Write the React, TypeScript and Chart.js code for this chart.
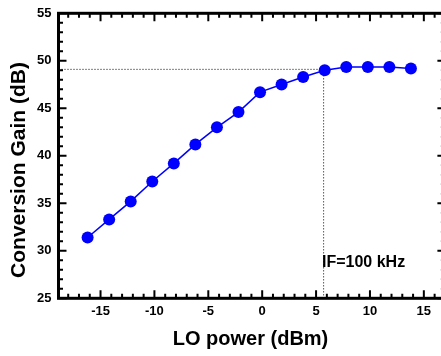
import React, { useEffect, useRef } from "react";
import { Chart, registerables } from "chart.js";

Chart.register(...registerables);

const loPower: number[] = [-16.2, -14.2, -12.2, -10.2, -8.2, -6.2, -4.2, -2.2, -0.2, 1.8, 3.8, 5.8, 7.8, 9.8, 11.8, 13.8];
const conversionGain: number[] = [31.4, 33.3, 35.2, 37.3, 39.2, 41.2, 43.0, 44.6, 46.7, 47.5, 48.3, 49.0, 49.35, 49.35, 49.35, 49.2];
const xTicks: number[] = [-15, -10, -5, 0, 5, 10, 15];
const yTicks: number[] = [25, 30, 35, 40, 45, 50, 55];
const markerX = 5.7;
const markerY = 49.1;
const annotationText = "IF=100 kHz";
const xTitle = "LO power (dBm)";
const yTitle = "Conversion Gain (dB)";

const FONT = "'Liberation Sans', Arial, sans-serif";

const framePlugin = {
  id: "framePlugin",
  beforeDatasetsDraw(chart: any) {
    const { ctx, scales } = chart;
    const xs = scales.x;
    const ys = scales.y;
    const px = xs.getPixelForValue(markerX);
    const py = ys.getPixelForValue(markerY);
    ctx.save();
    ctx.strokeStyle = "#000";
    ctx.lineWidth = 1;
    ctx.setLineDash([1, 2]);
    ctx.beginPath();
    ctx.moveTo(chart.chartArea.left, py);
    ctx.lineTo(px, py);
    ctx.moveTo(px, py);
    ctx.lineTo(px, chart.chartArea.bottom);
    ctx.stroke();
    ctx.restore();
  },
  afterDatasetsDraw(chart: any) {
    const { ctx, scales, chartArea } = chart;
    const { left, right, top, bottom } = chartArea;
    const xs = scales.x;
    const ys = scales.y;
    ctx.save();
    ctx.strokeStyle = "#000";
    ctx.setLineDash([]);
    ctx.lineWidth = 2;
    ctx.beginPath();
    for (let v = Math.ceil(xs.min); v <= Math.floor(xs.max); v++) {
      const p = xs.getPixelForValue(v);
      const len = v % 5 === 0 ? 8 : 4.5;
      ctx.moveTo(p, bottom);
      ctx.lineTo(p, bottom - len);
      ctx.moveTo(p, top);
      ctx.lineTo(p, top + len);
    }
    for (let v = Math.ceil(ys.min); v <= Math.floor(ys.max); v++) {
      const p = ys.getPixelForValue(v);
      const len = v % 5 === 0 ? 8 : 4.5;
      ctx.moveTo(left, p);
      ctx.lineTo(left + len, p);
      ctx.moveTo(right, p);
      ctx.lineTo(right - len, p);
    }
    ctx.stroke();
    ctx.lineWidth = 3;
    ctx.strokeRect(left, top, right - left, bottom - top);

    ctx.fillStyle = "#000";
    ctx.font = `bold 16px ${FONT}`;
    ctx.textAlign = "left";
    ctx.textBaseline = "middle";
    ctx.fillText(annotationText, 322, 263);

    ctx.font = `bold 20px ${FONT}`;
    ctx.textAlign = "center";
    ctx.textBaseline = "middle";
    ctx.fillText(xTitle, 250.5, 339);

    ctx.save();
    ctx.translate(19, 170);
    ctx.rotate(-Math.PI / 2);
    ctx.font = `bold 21px ${FONT}`;
    ctx.fillText(yTitle, 0, 0);
    ctx.restore();

    ctx.restore();
  },
};

export default function App() {
  const canvasRef = useRef<HTMLCanvasElement | null>(null);

  useEffect(() => {
    if (!canvasRef.current) return;
    const chart = new Chart(canvasRef.current, {
      type: "line",
      data: {
        datasets: [
          {
            data: loPower.map((x, i) => ({ x, y: conversionGain[i] })),
            borderColor: "#0000ff",
            backgroundColor: "#0000ff",
            borderWidth: 1.5,
            pointRadius: 6,
            pointBorderWidth: 0,
            pointBackgroundColor: "#0000ff",
            tension: 0,
          },
        ],
      },
      options: {
        responsive: false,
        animation: false,
        devicePixelRatio: 1,
        layout: { padding: { left: 0, top: 13.3, right: 6.6, bottom: 0 } },
        plugins: {
          legend: { display: false },
          tooltip: { enabled: false },
        },
        scales: {
          x: {
            type: "linear",
            position: "bottom",
            min: -18.9,
            max: 17,
            afterBuildTicks: (s: any) => {
              s.ticks = xTicks.map((v) => ({ value: v }));
            },
            afterFit: (s: any) => {
              s.height = 57.7;
              s.paddingLeft = 0;
              s.paddingRight = 0;
            },
            ticks: {
              color: "#000",
              font: { family: FONT, size: 13, weight: "bold" },
              padding: 5,
              maxRotation: 0,
              autoSkip: false,
              callback: (v: any) => String(v),
            },
            grid: { display: false, drawTicks: false },
            border: { display: false },
          },
          y: {
            type: "linear",
            min: 25,
            max: 55,
            afterBuildTicks: (s: any) => {
              s.ticks = yTicks.map((v) => ({ value: v }));
            },
            afterFit: (s: any) => {
              s.width = 58.5;
              s.paddingTop = 0;
              s.paddingBottom = 0;
            },
            ticks: {
              color: "#000",
              font: { family: FONT, size: 13, weight: "bold" },
              padding: 7,
              autoSkip: false,
              callback: (v: any) => String(v),
            },
            grid: { display: false, drawTicks: false },
            border: { display: false },
          },
        },
      },
      plugins: [framePlugin],
    });
    return () => chart.destroy();
  }, []);

  return (
    <div
      style={{
        position: "absolute",
        left: 0,
        top: 0,
        width: 441,
        height: 356,
        overflow: "hidden",
        background: "#fff",
      }}
    >
      <canvas ref={canvasRef} width={452} height={356} style={{ display: "block" }} />
    </div>
  );
}
